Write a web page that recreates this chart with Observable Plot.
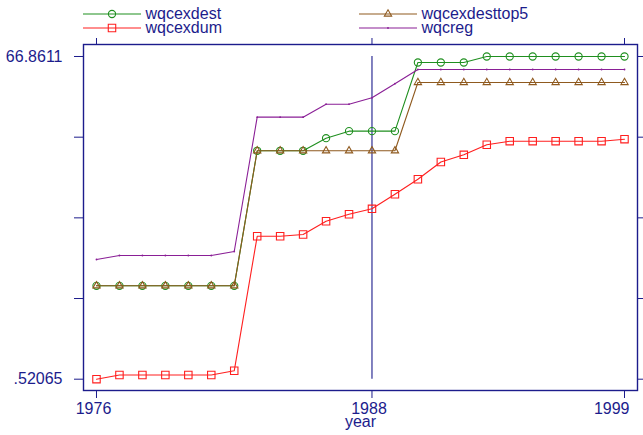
<!DOCTYPE html>
<html><head><meta charset="utf-8">
<script src="https://cdn.jsdelivr.net/npm/d3@7"></script>
<script src="https://cdn.jsdelivr.net/npm/@observablehq/plot@0.6"></script>
<style>
body{margin:0;background:#fff;}
#wrap{position:relative;width:643px;height:435px;font-family:"Liberation Sans",Arial,sans-serif;}
#legend{position:absolute;left:0;top:0;pointer-events:none;}
</style>
</head><body><div id="wrap"></div>
<script>
const years = [1976,1977,1978,1979,1980,1981,1982,1983,1984,1985,1986,1987,1988,1989,1990,1991,1992,1993,1994,1995,1996,1997,1998,1999];
const wqcexdest = [19.72,19.72,19.72,19.72,19.72,19.72,19.72,47.48,47.48,47.48,50.07,51.51,51.51,51.51,65.63,65.63,65.63,66.8611,66.8611,66.8611,66.8611,66.8611,66.8611,66.8611];
const wqcexdum = [0.52065,1.38,1.38,1.38,1.38,1.38,2.25,29.9,29.9,30.27,33.0,34.44,35.55,38.55,41.63,45.17,46.65,48.71,49.45,49.45,49.45,49.45,49.45,49.86];
const wqcexdesttop5 = [19.72,19.72,19.72,19.72,19.72,19.72,19.72,47.48,47.48,47.48,47.48,47.48,47.48,47.48,61.52,61.52,61.52,61.52,61.52,61.52,61.52,61.52,61.52,61.52];
const wqcreg = [25.13,25.95,25.95,25.95,25.95,25.95,26.77,54.39,54.39,54.39,57.06,57.06,58.37,61.27,64.19,64.19,64.19,64.19,64.19,64.19,64.19,64.19,64.19,64.19];

const seriesNames = ["wqcexdest","wqcexdum","wqcexdesttop5","wqcreg"];
const seriesValues = [wqcexdest, wqcexdum, wqcexdesttop5, wqcreg];
const seriesColors = ["#1f8f1f","#ff1f1f","#8f5a1f","#8a1f96"];
const seriesSymbols = ["circle","square","triangle","tick"];
const yTicks = [0.52065, 17.1058, 33.691, 50.2759, 66.8611];
const yTickLabels = [".52065","","","","66.8611"];
const xTicks = [1976, 1988, 1999];
const xTitle = "year";
const refYear = 1988;

const navy = "#1c1c8c";
const labelMap = new Map(yTicks.map((t,i)=>[t, yTickLabels[i]]));

const marks = [
  Plot.frame({stroke: navy, strokeWidth: 1.4}),
  Plot.axisY({anchor: "left", ticks: yTicks, tickSize: 9, tickPadding: 12, tickFormat: d => labelMap.get(d) ?? "", label: null, stroke: navy, fill: navy, fontSize: 16}),
  Plot.axisY({anchor: "right", ticks: yTicks, tickSize: 7, tickFormat: () => "", label: null, stroke: navy}),
  Plot.axisX({anchor: "bottom", ticks: xTicks, tickSize: 8, tickFormat: () => "", label: null, stroke: navy}),
  Plot.axisX({anchor: "top", ticks: xTicks, tickSize: 7, tickFormat: () => "", label: null, stroke: navy}),
  // x tick labels (last one kept inside the frame, as in the reference)
  Plot.text(xTicks.slice(0, -1), {x: d => d, text: d => String(d), frameAnchor: "bottom", lineAnchor: "top", dy: 12, dx: -3, fill: navy, fontSize: 16}),
  Plot.text(xTicks.slice(-1), {x: d => d, text: d => String(d), frameAnchor: "bottom", lineAnchor: "top", textAnchor: "end", dy: 12, dx: 5, fill: navy, fontSize: 16}),
  Plot.text([xTitle], {frameAnchor: "bottom", lineAnchor: "middle", dy: 31, text: d => d, fill: navy, fontSize: 16}),
  Plot.ruleX([refYear], {y1: yTicks[0], y2: yTicks[yTicks.length-1], stroke: navy, strokeWidth: 1.1})
];

seriesNames.forEach((name, i) => {
  const rows = years.map((y, j) => ({year: y, value: seriesValues[i][j]}));
  marks.push(Plot.line(rows, {x: "year", y: "value", stroke: seriesColors[i], strokeWidth: 1.1}));
  const sym = seriesSymbols[i];
  if (sym === "tick") {
    marks.push(Plot.dot(rows, {x: "year", y: "value", r: 0.9, fill: seriesColors[i]}));
  } else {
    const r = sym === "circle" ? 3.6 : sym === "square" ? 4.2 : 2.7;
    marks.push(Plot.dot(rows, {x: "year", y: "value", symbol: sym, r, stroke: seriesColors[i], fill: "none", strokeWidth: 1.1}));
  }
});

const chart = Plot.plot({
  width: 643, height: 435,
  marginLeft: 83, marginRight: 6, marginTop: 44, marginBottom: 45,
  x: {domain: [1975.434, 1999.566]},
  y: {domain: [-1.802, 69.328]},
  style: {fontFamily: '"Liberation Sans", Arial, sans-serif', fontSize: "16px", color: navy, background: "#fff"},
  marks
});
const wrap = document.getElementById("wrap");
wrap.appendChild(chart);

// legend above the plot frame
const legendPos = [
  {x0: 83, x1: 141, y: 14},
  {x0: 83, x1: 141, y: 28},
  {x0: 359, x1: 417, y: 14},
  {x0: 359, x1: 417, y: 28}
];
const leg = d3.select(wrap).append("svg").attr("id","legend").attr("width",643).attr("height",42);
seriesNames.forEach((name, i) => {
  const p = legendPos[i];
  const g = leg.append("g");
  const cx = (p.x0 + p.x1) / 2;
  g.append("line").attr("x1",p.x0).attr("x2",p.x1).attr("y1",p.y).attr("y2",p.y).attr("stroke",seriesColors[i]).attr("stroke-width",1.1);
  const sym = seriesSymbols[i];
  if (sym === "tick") {
    g.append("circle").attr("cx",cx).attr("cy",p.y).attr("r",0.9).attr("fill",seriesColors[i]);
  } else {
    const type = sym === "circle" ? d3.symbolCircle : sym === "square" ? d3.symbolSquare : d3.symbolTriangle;
    const r = sym === "circle" ? 3.6 : sym === "square" ? 4.2 : 2.7;
    g.append("path").attr("transform",`translate(${cx},${p.y})`).attr("d", d3.symbol(type, Math.PI*r*r)()).attr("fill","none").attr("stroke",seriesColors[i]).attr("stroke-width",1.1);
  }
  g.append("text").attr("x", p.x1 + 4.5).attr("y", p.y + 5).attr("fill", navy).attr("font-size", 16).attr("font-family",'"Liberation Sans", Arial, sans-serif').text(name);
});
</script>
</body></html>
